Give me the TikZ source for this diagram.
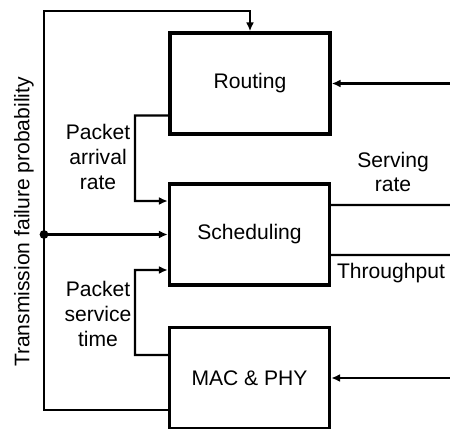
\documentclass[tikz,border=0pt]{standalone}
\usepackage{fontspec}
\setmainfont{Liberation Sans}
\usetikzlibrary{arrows.meta}
\begin{document}
\begin{tikzpicture}[x=0.02cm,y=-0.02cm,
    block/.style={draw,line width=2pt,minimum width=3.2cm,minimum height=2.02cm,font=\large},
    link/.style={line width=1.4pt},
    feed/.style={link,-{Latex[length=5pt,width=4.5pt]}},
    lbl/.style={align=center,font=\large}]
    \useasboundingbox (0,0) rectangle (450,429);
    % blocks
    \node[block] (routing) at (250,83.5) {Routing};
    \node[block] (sched) at (249.5,234.5) {Scheduling};
    \node[block] (mac) at (249.5,378) {MAC \& PHY};
    % free ends and corners
    \coordinate (topleft) at (44,11);
    \coordinate (split) at (44,234.5);
    \coordinate (inroute) at (450,83.5);
    \coordinate (inmac) at (450,378);
    \coordinate (outserve) at (450,205);
    \coordinate (outthru) at (450,255);
    \coordinate (arrcol) at (135,0);
    % feedback loop
    \draw[feed] ([yshift=-0.64cm]mac.west) -| (topleft) -| (routing.north);
    \fill (split) circle (2.5pt);
    \draw[feed] (split) -- (sched.west);
    % between blocks
    \draw[feed] ([yshift=-0.64cm]routing.west) -| (arrcol |- 0,201) -- ([yshift=0.67cm]sched.west);
    \draw[feed] ([yshift=0.46cm]mac.west) -| (arrcol |- 0,270) -- ([yshift=-0.71cm]sched.west);
    % right side
    \draw[feed] (inroute) -- (routing.east);
    \draw[feed] (inmac) -- (mac.east);
    \draw[link] ([yshift=0.59cm]sched.east) -- (outserve);
    \draw[link] ([yshift=-0.41cm]sched.east) -- (outthru);
    % labels
    \node[lbl] (arrlbl) at (98,157) {Packet\\arrival\\rate};
    \node[lbl] (svclbl) at (98,314) {Packet\\service\\time};
    \node[lbl] (servelbl) at (393,172) {Serving\\rate};
    \node[lbl] (thrulbl) at (391,273) {Throughput};
    \node[lbl,rotate=90] (faillbl) at (24,222) {Transmission failure probability};
\end{tikzpicture}
\end{document}
